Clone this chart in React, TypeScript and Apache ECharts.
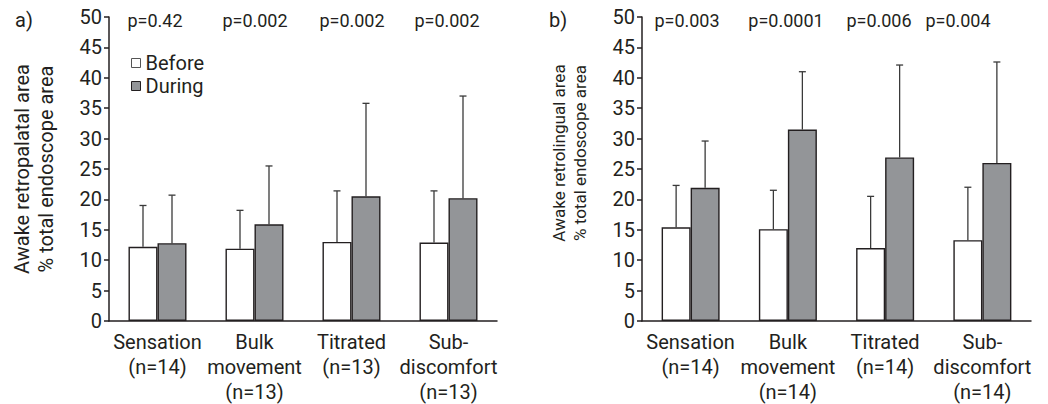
import React, { useEffect, useRef } from "react";
import * as echarts from "echarts";

const categoriesA = ["Sensation\n(n=14)", "Bulk\nmovement\n(n=13)", "Titrated\n(n=13)", "Sub-\ndiscomfort\n(n=13)"];
const categoriesB = ["Sensation\n(n=14)", "Bulk\nmovement\n(n=14)", "Titrated\n(n=14)", "Sub-\ndiscomfort\n(n=14)"];

const beforeA = [12.2, 11.9, 13.0, 12.9];
const beforeErrA = [19.0, 18.2, 21.4, 21.4];
const duringA = [12.8, 15.9, 20.5, 20.2];
const duringErrA = [20.7, 25.5, 35.8, 37.0];

const beforeB = [15.4, 15.1, 12.0, 13.3];
const beforeErrB = [22.3, 21.5, 20.5, 22.0];
const duringB = [21.9, 31.5, 26.9, 26.0];
const duringErrB = [29.6, 41.0, 42.1, 42.6];

const pValuesA = ["p=0.42", "p=0.002", "p=0.002", "p=0.002"];
const pValuesB = ["p=0.003", "p=0.0001", "p=0.006", "p=0.004"];

const yTicks = { min: 0, max: 50, interval: 5 };

const INK = "#231f20";
const GREY = "#939598";
const FONT = "Roboto";
const BAR_W = 29;

function errorSeries(name: string, grid: number, vals: number[], tops: number[], side: number) {
  return {
    type: "custom",
    name: name + "_err",
    xAxisIndex: grid,
    yAxisIndex: grid,
    silent: true,
    z: 1,
    data: vals.map((v, i) => [i, v, tops[i]]),
    renderItem: (params: any, api: any) => {
      const base = api.coord([api.value(0), api.value(1)]);
      const top = api.coord([api.value(0), api.value(2)]);
      const x = base[0] + (side * BAR_W) / 2;
      const style = { stroke: "#3a3a3a", lineWidth: 1.3 };
      return {
        type: "group",
        children: [
          { type: "line", shape: { x1: x, y1: base[1], x2: x, y2: top[1] }, style },
          { type: "line", shape: { x1: x - 3.5, y1: top[1], x2: x + 3.5, y2: top[1] }, style },
        ],
      };
    },
  };
}

function barSeries(name: string, grid: number, vals: number[], fill: string) {
  return {
    type: "bar",
    name,
    xAxisIndex: grid,
    yAxisIndex: grid,
    data: vals,
    barWidth: BAR_W,
    barGap: "0%",
    z: 2,
    itemStyle: { color: fill, borderColor: INK, borderWidth: 1.4 },
  };
}

export default function App() {
  const ref = useRef<HTMLDivElement>(null);
  useEffect(() => {
    if (!ref.current) return;
    const chart = echarts.init(ref.current, undefined, { renderer: "svg" });
    const xAxis = (idx: number, cats: string[]) => ({
      type: "category",
      gridIndex: idx,
      data: cats,
      boundaryGap: true,
      axisLine: { lineStyle: { color: INK, width: 1.5 } },
      axisTick: { alignWithLabel: true, length: 6, lineStyle: { color: INK, width: 1.5 } },
      axisLabel: { color: INK, fontFamily: FONT, fontSize: 20, lineHeight: 25, margin: 8, interval: 0 },
    });
    const yAxis = (idx: number, name: string, size: number, lh: number, gap: number, pad: number[]) => ({
      type: "value",
      gridIndex: idx,
      ...yTicks,
      name,
      nameLocation: "middle",
      nameRotate: 90,
      nameGap: gap,
      nameTextStyle: { color: INK, fontFamily: FONT, fontSize: size, lineHeight: lh, padding: pad },
      splitLine: { show: false },
      axisLine: { show: true, lineStyle: { color: INK, width: 1.5 } },
      axisTick: { show: true, length: 5, lineStyle: { color: INK, width: 1.5 } },
      axisLabel: { color: INK, fontFamily: FONT, fontSize: 20, margin: 7 },
    });
    const pText = (labels: string[], xs: number[]) =>
      labels.map((t, i) => ({
        type: "text",
        x: xs[i],
        y: 20,
        style: { text: t, fill: INK, font: `18px ${FONT}`, textAlign: "center", textVerticalAlign: "middle" },
      }));
    chart.setOption({
      animation: false,
      backgroundColor: "#ffffff",
      grid: [
        { left: 109, right: 551, top: 17, bottom: 83 },
        { left: 642, right: 17, top: 17, bottom: 83 },
      ],
      legend: {
        left: 126,
        top: 48,
        orient: "vertical",
        itemWidth: 9,
        itemHeight: 9,
        itemGap: 3,
        icon: "rect",
        data: [
          { name: "Before", itemStyle: { color: "#ffffff", borderColor: "#555", borderWidth: 1 } },
          { name: "During", itemStyle: { color: GREY, borderColor: INK, borderWidth: 1 } },
        ],
        textStyle: { color: INK, fontFamily: FONT, fontSize: 20 },
      },
      xAxis: [xAxis(0, categoriesA), xAxis(1, categoriesB)],
      yAxis: [
        yAxis(0, "Awake retropalatal area\n% total endoscope area", 20, 24, 51, [0, 0, 0, 0]),
        yAxis(1, "Awake retrolingual area\n% total endoscope area", 17, 21, 52, [0, 0, 0, 32]),
      ],
      series: [
        barSeries("Before", 0, beforeA, "#ffffff"),
        barSeries("During", 0, duringA, GREY),
        errorSeries("Before", 0, beforeA, beforeErrA, -1),
        errorSeries("During", 0, duringA, duringErrA, 1),
        barSeries("Before", 1, beforeB, "#ffffff"),
        barSeries("During", 1, duringB, GREY),
        errorSeries("Before", 1, beforeB, beforeErrB, -1),
        errorSeries("During", 1, duringB, duringErrB, 1),
      ],
      graphic: [
        { type: "text", x: 15, y: 20, style: { text: "a)", fill: INK, font: `20px ${FONT}`, textVerticalAlign: "middle" } },
        { type: "text", x: 549, y: 20, style: { text: "b)", fill: INK, font: `20px ${FONT}`, textVerticalAlign: "middle" } },
        ...pText(pValuesA, [155, 255, 352, 447]),
        ...pText(pValuesB, [687, 786, 879, 958]),
      ],
    });
    return () => chart.dispose();
  }, []);
  return <div ref={ref} style={{ position: "fixed", left: 0, top: 0, width: 1048, height: 404 }} />;
}
